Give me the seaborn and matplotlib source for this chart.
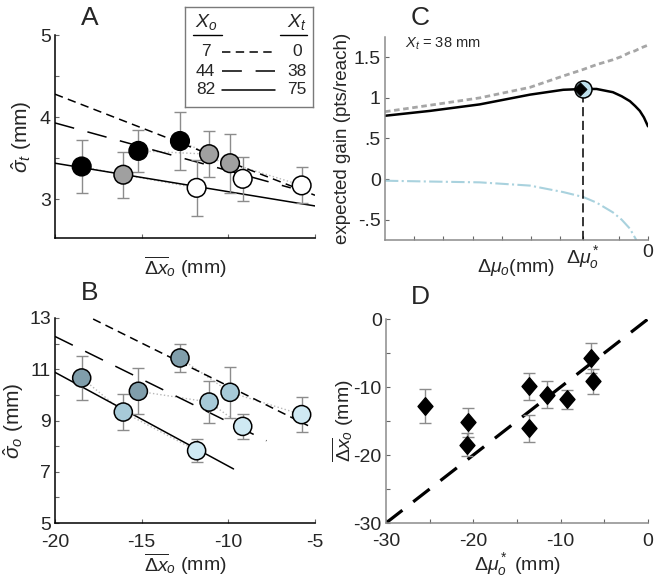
import numpy as np
import pandas as pd
import seaborn as sns
import matplotlib.pyplot as plt
from matplotlib.path import Path

# ---- panels A and B: nine conditions (3 start groups x 3 targets) ----
dx_o = [-18.46, -15.19, -12.79, -16.06, -11.11, -9.90, -11.83, -9.17, -5.77]
start_grp = ['g1', 'g1', 'g1', 'g2', 'g2', 'g2', 'g3', 'g3', 'g3']
target = ['75', '38', '0', '75', '38', '0', '75', '38', '0']
sigma_t = [3.40, 3.59, 3.71, 3.30, 3.55, 3.44, 3.14, 3.25, 3.17]
sigma_t_err = [0.32, 0.26, 0.35, 0.28, 0.28, 0.36, 0.34, 0.27, 0.22]
sigma_o = [10.66, 10.14, 11.44, 9.33, 9.72, 10.10, 7.82, 8.77, 9.23]
sigma_o_err = [0.85, 0.90, 0.53, 0.70, 0.82, 1.00, 0.45, 0.50, 0.67]

# regression lines, end points
fit_targets = ['0', '38', '75']
fit_a_x = [[-20, -5], [-20, -6.4], [-20, -5]]
fit_a_y = [[4.28, 3.05], [3.93, 3.14], [3.44, 2.92]]
fit_b_x = [[-17.8, -5.4], [-20, -7.8], [-20, -9.7]]
fit_b_y = [[12.96, 8.80], [12.28, 8.21], [10.88, 7.11]]

# ---- panel C: expected gain curves for X_t = 38 mm ----
mu_c = [-45, -37.3, -28.8, -20.2, -14.5, -11.1, -8.8, -6.0, -4.5, -3.1, -2.2, -1.4, -0.7, 0]
gain_total = [0.78, 0.84, 0.92, 1.04, 1.10, 1.11, 1.11, 1.07, 1.02, 0.96, 0.90, 0.84, 0.76, 0.65]
gain_hit = [0.83, 0.91, 1.00, 1.13, 1.27, 1.35, 1.41, 1.47, 1.51, 1.56, 1.58, 1.61, 1.63, 1.65]
mu_pen = [-45, -37.3, -28.8, -20.2, -14.5, -11.1, -8.8, -6.0, -4.5, -3.1, -2.0]
gain_pen = [-0.02, -0.03, -0.04, -0.08, -0.16, -0.22, -0.29, -0.41, -0.50, -0.61, -0.75]
mu_opt, gain_opt = -11.1, 1.11

# ---- panel D: optimal vs observed shift ----
mu_star = [-20.77, -20.66, -25.54, -13.6, -11.51, -13.6, -9.22, -6.29, -6.55]
dx_err = [1.7, 2.1, 2.45, 1.96, 1.96, 2.0, 1.4, 1.8, 2.2]

df = pd.DataFrame({'dx_o': dx_o, 'grp': start_grp, 'target': target,
                   'sigma_t': sigma_t, 'sigma_t_err': sigma_t_err,
                   'sigma_o': sigma_o, 'sigma_o_err': sigma_o_err,
                   'mu_star': mu_star, 'dx_err': dx_err})

sns.set_style('ticks')
plt.rcParams['font.family'] = ['Liberation Sans', 'DejaVu Sans']
plt.rcParams['mathtext.fontset'] = 'custom'
plt.rcParams['mathtext.rm'] = 'Liberation Sans'
plt.rcParams['mathtext.it'] = 'Liberation Sans:italic'
plt.rcParams['mathtext.bf'] = 'Liberation Sans:bold'
plt.rcParams['axes.unicode_minus'] = False

fig = plt.figure(figsize=(6.58, 5.80), dpi=100)
axA = fig.add_axes([55 / 658, 1 - 238 / 580, 260 / 658, 203 / 580])
axB = fig.add_axes([55 / 658, 1 - 523 / 580, 260 / 658, 205 / 580])
axC = fig.add_axes([385 / 658, 1 - 240 / 580, 263 / 658, 203 / 580])
axD = fig.add_axes([386 / 658, 1 - 523 / 580, 262 / 658, 204 / 580])

styles = {'0': (0, (5.5, 3.5)), '38': (0, (13, 9)), '75': '-'}
fs = 14

# ---------------- A ----------------
grey_pal = {'g1': 'black', 'g2': '#a0a0a0', 'g3': 'white'}
sns.lineplot(data=df, x='dx_o', y='sigma_t', units='target', estimator=None,
             color='#b8b8b8', lw=1, ls=':', ax=axA)
for t, xs, ys in zip(fit_targets, fit_a_x, fit_a_y):
    sns.lineplot(x=xs, y=ys, color='black', lw=1.1, linestyle=styles[t], ax=axA)
axA.errorbar(df['dx_o'], df['sigma_t'], yerr=df['sigma_t_err'], fmt='none',
             ecolor='#8c8c8c', elinewidth=1, capsize=4, capthick=1, zorder=3)
sns.scatterplot(data=df, x='dx_o', y='sigma_t', hue='grp', palette=grey_pal,
                s=180, edgecolor='black', linewidth=1.1, legend=False, zorder=4, ax=axA)
axA.set_xlim(-20, -5)
axA.set_ylim(2.53, 5)
axA.set_xticks([-20, -15, -10, -5])
axA.set_xticklabels([])
axA.set_yticks([3, 4, 5])
axA.set_yticks([3.5, 4.5], minor=True)
axA.set_xlabel(r'$\overline{\Delta x}_o$ (mm)', fontsize=fs, labelpad=6)
axA.set_ylabel(r'$\hat{\sigma}_t$ (mm)', fontsize=15, labelpad=4)

# ---------------- B ----------------
blue_pal = {'g1': '#809eab', 'g2': '#a7cad8', 'g3': '#cfe9f3'}
sns.lineplot(data=df, x='dx_o', y='sigma_o', units='target', estimator=None,
             color='#b8b8b8', lw=1, ls=':', ax=axB)
for t, xs, ys in zip(fit_targets, fit_b_x, fit_b_y):
    sns.lineplot(x=xs, y=ys, color='black', lw=1.1, linestyle=styles[t], ax=axB)
axB.errorbar(df['dx_o'], df['sigma_o'], yerr=df['sigma_o_err'], fmt='none',
             ecolor='#8c8c8c', elinewidth=1, capsize=4, capthick=1, zorder=3)
sns.scatterplot(data=df, x='dx_o', y='sigma_o', hue='grp', palette=blue_pal,
                s=170, edgecolor='black', linewidth=1.1, legend=False, zorder=4, ax=axB)
axB.set_xlim(-20, -5)
axB.set_ylim(5, 13)
axB.set_xticks([-20, -15, -10, -5])
axB.set_yticks([5, 7, 9, 11, 13])
axB.set_yticks([6, 8, 10, 12], minor=True)
axB.set_xlabel(r'$\overline{\Delta x}_o$ (mm)', fontsize=fs, labelpad=0)
axB.set_ylabel(r'$\hat{\sigma}_o$ (mm)', fontsize=15, labelpad=2)

# ---------------- C ----------------
sns.lineplot(x=mu_c, y=gain_hit, color='#a6a6a6', lw=2, linestyle=(0, (2, 1.3)), ax=axC)
sns.lineplot(x=mu_pen, y=gain_pen, color='#a9d2de', lw=1.5, linestyle='-.', ax=axC)
sns.lineplot(x=mu_c, y=gain_total, color='black', lw=1.8, ax=axC)
axC.plot([mu_opt, mu_opt], [-0.75, gain_opt], color='black', lw=1.1,
         linestyle=(0, (6, 3)), zorder=2)
sns.scatterplot(x=[mu_opt], y=[gain_opt], color='#bfe0ec', s=150, edgecolor='black',
                linewidth=1.1, zorder=5, ax=axC)
sns.scatterplot(x=[mu_opt - 0.45], y=[gain_opt], marker='D', color='black', s=45,
                edgecolor='black', zorder=6, ax=axC)
axC.set_xlim(-45, 0)
axC.set_ylim(-0.75, 1.75)
axC.set_xticks([-40, -35, -30, -25, -20, -15, -5, mu_opt, 0])
axC.set_xticklabels(['', '', '', '', '', '', '', r'$\Delta\mu^*_o$', '0'])
axC.set_yticks([-0.5, 0, 0.5, 1, 1.5])
axC.set_yticklabels(['-.5', '0', '.5', '1', '1.5'])
axC.set_xlabel(r'$\Delta\mu_o$(mm)', fontsize=fs)
axC.xaxis.set_label_coords(0.5, -0.135)
axC.xaxis.label.set_va('center')
axC.set_ylabel('expected gain (pts/reach)', fontsize=13.5, labelpad=2)
axC.text(0.076, 0.965, r'$X_t$ = 38 mm', transform=axC.transAxes, fontsize=10.5,
         va='center', ha='left')

# ---------------- D ----------------
diamond = Path([(0, 1), (0.85, 0), (0, -1), (-0.85, 0), (0, 1)],
               [Path.MOVETO, Path.LINETO, Path.LINETO, Path.LINETO, Path.CLOSEPOLY])
sns.lineplot(x=[-30, 0], y=[-30, 0], color='black', lw=2.3,
             linestyle=(0, (6.5, 4.3)), ax=axD)
axD.errorbar(df['mu_star'], df['dx_o'], yerr=df['dx_err'], fmt='none',
             ecolor='#8c8c8c', elinewidth=1, capsize=4, capthick=1, zorder=3)
sns.scatterplot(data=df, x='mu_star', y='dx_o', marker=diamond, color='black',
                s=160, edgecolor='black', zorder=4, ax=axD)
axD.set_xlim(-30, 0)
axD.set_ylim(-30, 0)
axD.set_xticks([-30, -20, -10, 0])
axD.set_xticks([-25, -15, -5], minor=True)
axD.set_yticks([-30, -20, -10, 0])
axD.set_yticks([-25, -15, -5], minor=True)
axD.set_xlabel(r'$\Delta\mu^*_o$ (mm)', fontsize=fs, labelpad=1)
axD.set_ylabel(r'$\overline{\Delta x}_o$ (mm)', fontsize=fs, labelpad=-2)

# axes cosmetics
for ax, sc, xpad in [(axA, 'black', 6), (axB, 'black', 8), (axC, '#8c8c8c', 3), (axD, '#8c8c8c', 7)]:
    sns.despine(ax=ax)
    for sp in ('left', 'bottom'):
        ax.spines[sp].set_color(sc)
        ax.spines[sp].set_linewidth(1.1)
    ax.tick_params(which='both', direction='in', length=3, width=0.8,
                   color='#666666', labelsize=fs, pad=3)
    ax.tick_params(axis='x', which='major', pad=xpad)

# ---------------- legend box in A ----------------
lg = fig.add_axes([185 / 658, 1 - 107 / 580, 128 / 658, 100 / 580])
lg.set_xlim(0, 1)
lg.set_ylim(0, 1)
lg.set_xticks([])
lg.set_yticks([])
for sp in lg.spines.values():
    sp.set_color('#7a7a7a')
    sp.set_linewidth(1)
lg.text(0.17, 0.85, r'$X_o$', fontsize=14, ha='center', va='center')
lg.text(0.875, 0.85, r'$X_t$', fontsize=14, ha='center', va='center')
lg.plot([0.06, 0.29], [0.72, 0.72], color='black', lw=1)
lg.plot([0.74, 0.95], [0.72, 0.72], color='black', lw=1)
leg_xo = ['7', '44', '82']
leg_xt = ['0', '38', '75']
for i, (a, b) in enumerate(zip(leg_xo, leg_xt)):
    yy = 0.55 - i * 0.19
    lg.text(0.16, yy, a, fontsize=12.5, ha='center', va='center')
    lg.text(0.875, yy, b, fontsize=12.5, ha='center', va='center')
    lg.plot([0.29, 0.70], [yy, yy], color='black', lw=1.1, linestyle=styles[b])

# panel letters
for lab, xx, yy in [('A', 90, 18), ('B', 90, 293), ('C', 420, 18), ('D', 420, 297)]:
    fig.text(xx / 658, 1 - yy / 580, lab, fontsize=19, ha='center', va='center')

fig.savefig('out.png', dpi=100)
